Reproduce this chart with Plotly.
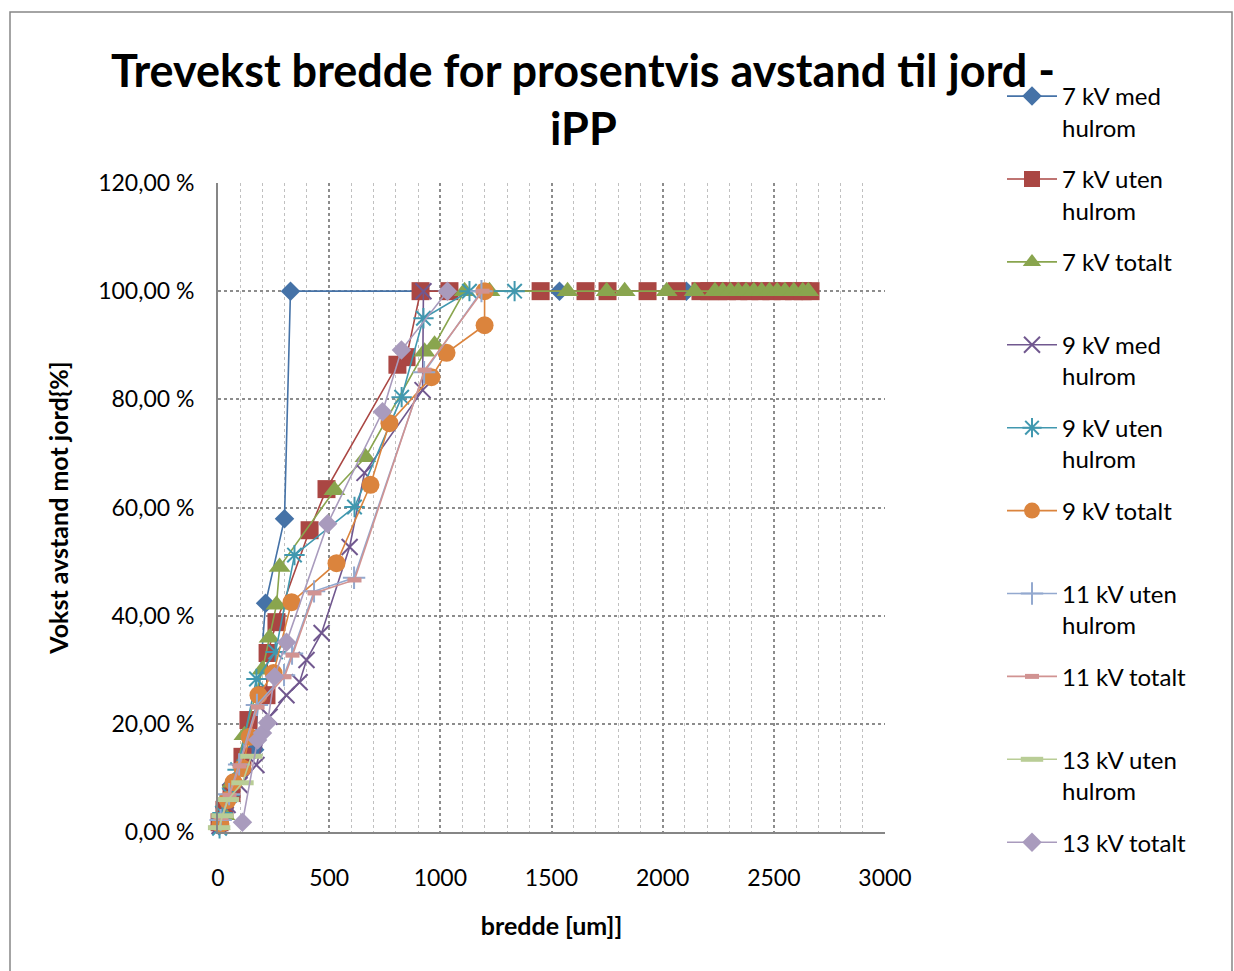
import plotly.graph_objects as go

# Series names (legend labels)
names = [
    "7 kV med<br>hulrom",
    "7 kV uten<br>hulrom",
    "7 kV totalt<br>\u00a0",
    "9 kV med<br>hulrom",
    "9 kV uten<br>hulrom",
    "9 kV totalt<br>\u00a0",
    "11 kV uten<br>hulrom",
    "11 kV totalt<br>\u00a0",
    "13 kV uten<br>hulrom",
    "13 kV totalt<br>\u00a0",
]

# Width [um] and growth distance to ground [%] per series
x_7_med = [5, 30, 60, 165, 214, 299, 326, 1536, 2107]
y_7_med = [1.1, 4.5, 8.7, 15.2, 42.3, 57.9, 100, 100, 100]

x_7_uten = [7, 29, 61, 110, 137, 218, 223, 263, 412, 488, 807, 848, 911, 1041,
            1451, 1653, 1752, 1932, 2063, 2170, 2210, 2250, 2290, 2340, 2390,
            2440, 2490, 2540, 2590, 2630, 2665]
y_7_uten = [1.8, 4.1, 7.2, 13.9, 20.7, 25.3, 33.1, 38.8, 55.8, 63.4, 86.4, 87.8,
            100, 100, 100, 100, 100, 100, 100, 100, 100, 100, 100, 100, 100,
            100, 100, 100, 100, 100, 100]

x_7_tot = [7, 29, 65, 119, 200, 232, 263, 277, 524, 663, 929, 974, 1109, 1221,
           1572, 1748, 1829, 2018, 2144, 2235, 2270, 2305, 2340, 2375, 2410,
           2445, 2480, 2515, 2550, 2590, 2630, 2655]
y_7_tot = [1.3, 3.1, 9.1, 17.9, 30.0, 35.9, 42.0, 49.0, 63.2, 69.3, 88.8, 90.1,
           100, 100, 100, 100, 100, 100, 100, 100, 100, 100, 100, 100, 100,
           100, 100, 100, 100, 100, 100, 100]

x_9_med = [7, 43, 97, 173, 232, 308, 367, 398, 466, 592, 659, 920, 924]
y_9_med = [1.1, 5.0, 8.7, 12.4, 21.3, 25.3, 27.7, 31.8, 36.8, 52.7, 66.4, 81.7, 100]

x_9_uten = [7, 20, 52, 88, 173, 259, 344, 614, 826, 924, 1131, 1334]
y_9_uten = [0.7, 3.5, 6.8, 11.5, 28.3, 33.3, 51.2, 60.1, 80.4, 95.0, 100, 100]

x_9_tot = [11, 43, 70, 110, 142, 182, 250, 331, 533, 686, 771, 960, 1028, 1199, 1199]
y_9_tot = [1.5, 5.9, 9.2, 11.8, 17.6, 25.3, 29.4, 42.5, 49.7, 64.2, 75.6, 84.1,
           88.6, 93.7, 100]

x_11_uten = [12, 50, 95, 175, 297, 333, 432, 612, 927, 1185]
y_11_uten = [2.2, 7.0, 12.5, 23.5, 29.0, 33.0, 44.5, 47.0, 85.0, 100]

x_11_tot = [16, 52, 97, 178, 299, 335, 434, 614, 929, 1190]
y_11_tot = [2.6, 6.8, 12.2, 23.1, 28.7, 32.7, 44.2, 46.6, 85.4, 100]

x_13_uten = [5, 20, 45, 110, 150]
y_13_uten = [0.8, 3.0, 6.0, 9.1, 14.0]

x_13_tot = [110, 178, 200, 223, 254, 308, 493, 740, 825, 1032]
y_13_tot = [1.8, 17.0, 18.3, 20.2, 28.7, 35.1, 57.0, 77.7, 89.1, 100]

xs = [x_7_med, x_7_uten, x_7_tot, x_9_med, x_9_uten, x_9_tot,
      x_11_uten, x_11_tot, x_13_uten, x_13_tot]
ys = [y_7_med, y_7_uten, y_7_tot, y_9_med, y_9_uten, y_9_tot,
      y_11_uten, y_11_tot, y_13_uten, y_13_tot]

# Axis ticks
x_ticks = [0, 500, 1000, 1500, 2000, 2500, 3000]
y_ticks = [0, 20, 40, 60, 80, 100, 120]
y_ticktext = ["0,00 %", "20,00 %", "40,00 %", "60,00 %", "80,00 %", "100,00 %", "120,00 %"]

title_lines = ["Trevekst bredde for prosentvis avstand til jord -", "iPP"]

colors = ["#4572A7", "#AA4643", "#89A54E", "#71588F", "#4198AF",
          "#DB843D", "#93A9CF", "#D19392", "#B9CD96", "#A99BBD"]

markers = [
    dict(symbol="diamond", size=15),
    dict(symbol="square", size=18),
    dict(symbol="triangle-up", size=19),
    dict(symbol="x-thin", size=16, line=dict(width=2)),
    dict(symbol="asterisk", size=17, line=dict(width=2)),
    dict(symbol="circle", size=18),
    dict(symbol="cross-thin", size=16, line=dict(width=2)),
    dict(symbol="line-ew", size=10, line=dict(width=5)),
    dict(symbol="line-ew", size=16, line=dict(width=5)),
    dict(symbol="diamond", size=15),
]

FONT = "Lato, 'Open Sans', sans-serif"

fig = go.Figure()
for i in range(len(names)):
    m = dict(markers[i])
    m["color"] = colors[i]
    ln = dict(m.get("line", {}))
    ln["color"] = colors[i]
    if "width" not in ln:
        ln["width"] = 0
    m["line"] = ln
    fig.add_trace(go.Scatter(
        x=xs[i], y=ys[i], name=names[i], mode="lines+markers",
        line=dict(color=colors[i], width=1.6),
        marker=m, cliponaxis=False, legendgroup=str(i),
    ))

W, H = 1234, 971
L, R, T, B = 218, 885, 183, 832
pw, ph = R - L, B - T

def px(xp):
    return (xp - L) / pw

def py(yp):
    return (B - yp) / ph

# Two-line chart title
annotations = [
    dict(text="<b>%s</b>" % title_lines[0], x=px(583), y=py(70),
         xref="paper", yref="paper", xanchor="center", yanchor="middle",
         showarrow=False, font=dict(size=45, family=FONT, color="#000000")),
    dict(text="<b>%s</b>" % title_lines[1], x=px(583), y=py(128),
         xref="paper", yref="paper", xanchor="center", yanchor="middle",
         showarrow=False, font=dict(size=45, family=FONT, color="#000000")),
]

fig.update_layout(
    width=W, height=H,
    margin=dict(l=L, r=W - R, t=T, b=H - B),
    paper_bgcolor="white", plot_bgcolor="white",
    font=dict(family=FONT, color="#000000", size=23),
    annotations=annotations,
    showlegend=True,
    legend=dict(
        x=px(1002), xanchor="left", y=py(74), yanchor="top",
        font=dict(size=24, family=FONT, color="#000000"),
        valign="top", itemwidth=50, tracegroupgap=17.5,
        bgcolor="rgba(0,0,0,0)", maxheight=950,
    ),
    xaxis=dict(
        range=[0, 3000], tickvals=x_ticks, ticktext=[str(v) for v in x_ticks],
        showgrid=True, gridcolor="#8C8C8C", griddash="dot", gridwidth=1.5,
        minor=dict(dtick=100, showgrid=True, gridcolor="#C0C0C0", griddash="dot", gridwidth=1),
        showline=True, linecolor="#868686", linewidth=2, zeroline=False,
        ticks="", ticklabelstandoff=24,
        tickfont=dict(size=23, family=FONT),
        title=dict(text="<b>bredde [um]]</b>", font=dict(size=25, family=FONT), standoff=28),
    ),
    yaxis=dict(
        range=[0, 120], tickvals=y_ticks, ticktext=y_ticktext,
        showgrid=True, gridcolor="#8C8C8C", griddash="dot", gridwidth=1.5,
        showline=True, linecolor="#868686", linewidth=2, zeroline=False,
        ticks="", ticklabelstandoff=17,
        tickfont=dict(size=23, family=FONT),
        title=dict(text="<b>Vokst avstand mot jord{%]</b>", font=dict(size=25, family=FONT), standoff=22),
    ),
    shapes=[dict(
        type="rect", xref="paper", yref="paper",
        x0=px(10), x1=px(1232), y0=py(975), y1=py(12),
        line=dict(color="#868686", width=1.5), fillcolor="rgba(0,0,0,0)", layer="below",
    )],
)

fig.write_html("out.html")
